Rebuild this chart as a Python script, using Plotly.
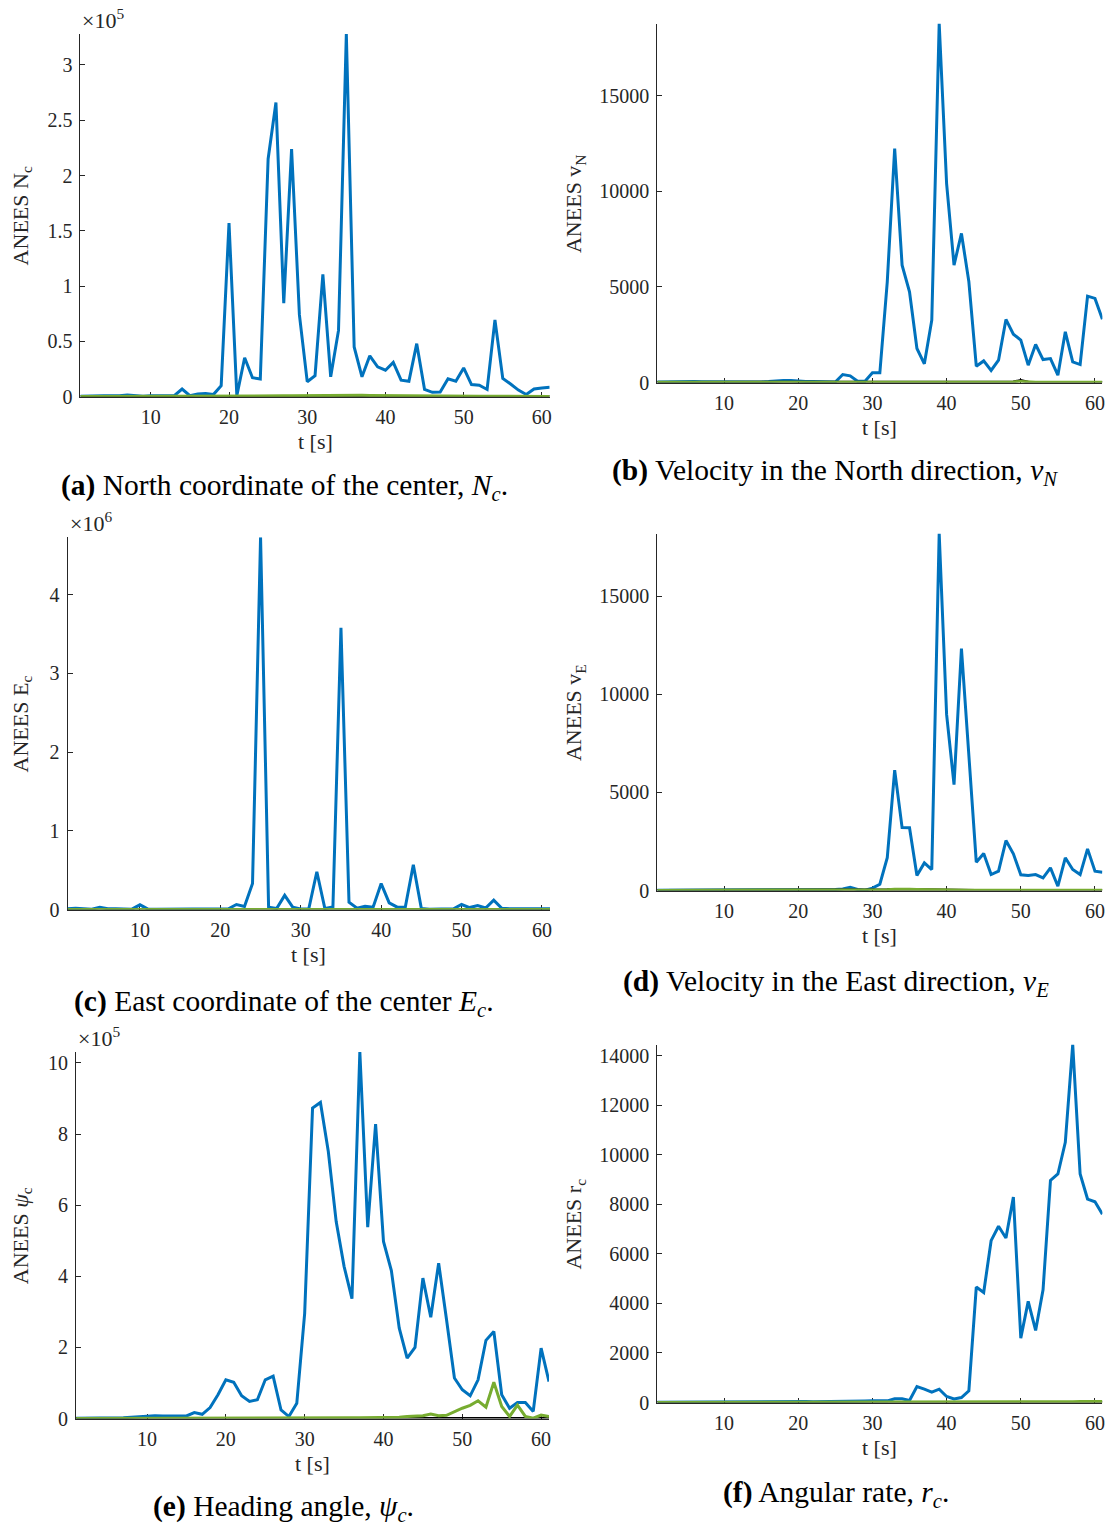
import plotly.graph_objects as go

# ---------------- data ----------------
t = list(range(1, 62))

# (a) ANEES N_c  (x 1e5)
a_blue = [0.005, 0.008, 0.01, 0.01, 0.01, 0.008, 0.015, 0.01, 0.005, 0.01, 0.012, 0.012, 0.01,
          0.07, 0.01, 0.025, 0.03, 0.02, 0.1, 1.57, 0.01, 0.353, 0.172, 0.16, 2.15, 2.66, 0.846,
          2.24, 0.74, 0.136, 0.19, 1.106, 0.18, 0.60, 3.28, 0.45, 0.18, 0.37, 0.27, 0.24, 0.31,
          0.15, 0.14, 0.48, 0.066, 0.04, 0.042, 0.163, 0.14, 0.26, 0.11, 0.105, 0.066, 0.695,
          0.166, 0.115, 0.06, 0.02, 0.07, 0.08, 0.085]
a_green = [0.002, 0.002, 0.002, 0.002, 0.002, 0.002, 0.003, 0.002, 0.002, 0.002, 0.002, 0.002, 0.002,
           0.003, 0.002, 0.002, 0.003, 0.003, 0.003, 0.004, 0.004, 0.005, 0.005, 0.006, 0.007, 0.008,
           0.008, 0.009, 0.01, 0.011, 0.012, 0.013, 0.014, 0.015, 0.015, 0.014, 0.013, 0.012, 0.011,
           0.01, 0.009, 0.008, 0.008, 0.007, 0.006, 0.005, 0.005, 0.005, 0.004, 0.004, 0.004, 0.004,
           0.004, 0.004, 0.004, 0.003, 0.003, 0.003, 0.003, 0.003, 0.003]
a_black = [0.001, 0.001, 0.001, 0.001, 0.001, 0.001, 0.001, 0.001, 0.001, 0.001,
           0.001, 0.001, 0.001, 0.001, 0.001, 0.001, 0.001, 0.001, 0.001, 0.001, 0.001, 0.001,
           0.001, 0.001, 0.001, 0.001, 0.001, 0.001, 0.001, 0.001, 0.001, 0.001, 0.001, 0.001,
           0.001, 0.001, 0.001, 0.001, 0.001, 0.001, 0.001, 0.001, 0.001, 0.001, 0.001, 0.001,
           0.001, 0.001, 0.001, 0.001, 0.001, 0.001, 0.001, 0.001, 0.001, 0.001, 0.001, 0.001,
           0.001, 0.001, 0.001]

# (b) ANEES v_N
b_blue = [30, 40, 50, 55, 50, 50, 45, 40, 35, 35, 40, 40, 40, 35, 30, 50, 80, 110, 100, 70, 60, 55,
          50, 45, 30, 420, 350, 70, 70, 505, 505, 5270, 12240, 6140, 4740, 1780, 977, 3260, 18780,
          10410, 6140, 7800, 5270, 855, 1130, 630, 1170, 3300, 2530, 2215, 907, 1990, 1200, 1255,
          384, 2650, 1080, 940, 4520, 4400, 3310]
b_green = [8, 8, 9, 9, 10, 10, 10, 9, 9, 10, 10, 11, 11, 12, 12, 12, 13, 13, 13, 12, 12, 12, 12, 13,
           13, 14, 14, 15, 15, 16, 17, 18, 20, 20, 19, 18, 18, 17, 17, 16, 16, 15, 15, 16, 16, 17,
           18, 20, 30, 60, 30, 20, 18, 17, 16, 16, 15, 15, 15, 15, 15]
b_black = [2, 2, 2, 2, 2, 2, 2, 2, 2, 2, 2, 2, 2, 2, 2, 2, 2, 2, 2, 2, 2, 2, 2, 2, 2, 2, 2, 2, 2, 2,
           2, 2, 3, 3, 3, 3, 3, 3, 3, 3, 3, 3, 3, 3, 3, 3, 3, 5, 30, 110, 20, 3, 3, 3, 3, 3, 3, 3,
           3, 3, 3]

# (c) ANEES E_c  (x 1e6)
c_blue = [0.01, 0.015, 0.01, 0.005, 0.03, 0.01, 0.01, 0.005, 0.005, 0.06, 0.005, 0.004, 0.004,
          0.004, 0.004, 0.005, 0.005, 0.006, 0.008, 0.01, 0.01, 0.064, 0.04, 0.33, 4.73, 0.03,
          0.013, 0.18, 0.03, 0.008, 0.01, 0.48, 0.013, 0.034, 3.58, 0.093, 0.017, 0.042, 0.03,
          0.33, 0.085, 0.03, 0.03, 0.57, 0.013, 0.005, 0.005, 0.01, 0.01, 0.064, 0.025, 0.05,
          0.02, 0.12, 0.017, 0.01, 0.008, 0.005, 0.005, 0.01, 0.01]
c_green = [0.002, 0.002, 0.002, 0.002, 0.002, 0.002, 0.002, 0.002, 0.002, 0.002, 0.002, 0.002,
           0.002, 0.002, 0.002, 0.002, 0.002, 0.002, 0.002, 0.002, 0.002, 0.002, 0.002, 0.003,
           0.003, 0.003, 0.003, 0.003, 0.003, 0.003, 0.003, 0.003, 0.003, 0.003, 0.003, 0.003,
           0.003, 0.003, 0.003, 0.003, 0.003, 0.003, 0.003, 0.003, 0.003, 0.003, 0.002, 0.002,
           0.002, 0.002, 0.002, 0.002, 0.002, 0.002, 0.002, 0.002, 0.002, 0.002, 0.002, 0.002, 0.002]
c_black = [0.0005] * 61

# (d) ANEES v_E
d_blue = [10, 12, 12, 14, 14, 14, 15, 15, 15, 15, 18, 18, 20, 40, 45, 50, 20, 20, 40, 60, 45, 40,
          40, 45, 50, 85, 170, 50, 20, 120, 320, 1670, 6140, 3210, 3200, 765, 1410, 1070, 18200,
          8980, 5400, 12340, 6850, 1445, 1890, 815, 985, 2550, 1870, 800, 765, 815, 645, 1155, 220,
          1670, 1070, 815, 2125, 985, 935]
d_green = [6, 6, 6, 7, 7, 7, 7, 8, 8, 8, 8, 8, 9, 9, 9, 9, 10, 10, 10, 10, 10, 11, 11, 11, 12, 12,
           13, 14, 15, 18, 25, 40, 70, 80, 65, 55, 45, 35, 28, 22, 18, 15, 14, 13, 12, 12, 11, 11,
           11, 10, 10, 10, 10, 10, 10, 10, 10, 10, 10, 10, 10]
d_black = [2, 2, 2, 2, 2, 2, 2, 2, 2, 2, 2, 2, 2, 2, 2, 2, 2, 2, 2, 2, 2, 2, 2, 2, 2, 2, 2, 2, 3,
           5, 15, 35, 55, 60, 50, 40, 35, 25, 15, 8, 4, 3, 3, 3, 3, 3, 3, 3, 3, 3, 3, 3, 3, 3, 3, 3,
           3, 3, 3, 3, 3]

# (e) ANEES psi_c  (x 1e5)
e_blue = [0.005, 0.005, 0.005, 0.008, 0.01, 0.015, 0.02, 0.04, 0.05, 0.08, 0.08, 0.075, 0.07, 0.07,
          0.075, 0.17, 0.12, 0.31, 0.67, 1.09, 1.02, 0.64, 0.48, 0.53, 1.09, 1.19, 0.24, 0.056, 0.43,
          2.96, 8.73, 8.89, 7.51, 5.54, 4.28, 3.37, 10.31, 5.38, 8.28, 4.98, 4.16, 2.54, 1.70, 2.0,
          3.95, 2.85, 4.37, 2.78, 1.14, 0.81, 0.64, 1.09, 2.20, 2.45, 0.67, 0.29, 0.45, 0.45, 0.2,
          1.98, 1.04]
e_green = [0.002, 0.002, 0.002, 0.002, 0.002, 0.002, 0.003, 0.003, 0.003, 0.004, 0.004, 0.004,
           0.004, 0.005, 0.005, 0.005, 0.005, 0.006, 0.006, 0.006, 0.006, 0.007, 0.007, 0.007,
           0.008, 0.008, 0.008, 0.009, 0.01, 0.012, 0.014, 0.015, 0.015, 0.016, 0.018, 0.02, 0.025,
           0.025, 0.02, 0.02, 0.03, 0.04, 0.06, 0.08, 0.08, 0.13, 0.08, 0.09, 0.2, 0.29, 0.37, 0.5,
           0.32, 1.02, 0.34, 0.06, 0.38, 0.06, 0.01, 0.1, 0.06]
e_black = [0.001] * 61

# (f) ANEES r_c
f_blue = [10, 12, 15, 18, 20, 25, 35, 35, 30, 25, 20, 20, 25, 30, 35, 30, 30, 35, 40, 50, 45, 30,
          30, 35, 40, 45, 50, 55, 60, 67, 67, 67, 150, 150, 80, 646, 538, 417, 538, 242, 148, 200,
          470, 4660, 4440, 6530, 7110, 6640, 8290, 2600, 4080, 2910, 4550, 8960, 9220, 10500, 14440,
          9220, 8210, 8100, 7600]
f_green = [5, 5, 5, 6, 6, 6, 6, 7, 7, 7, 7, 8, 8, 8, 8, 9, 9, 9, 10, 10, 10, 10, 11, 11, 11, 12,
           12, 12, 13, 13, 14, 14, 15, 15, 15, 16, 16, 17, 17, 18, 18, 19, 19, 20, 20, 21, 22, 23,
           24, 25, 26, 27, 28, 30, 31, 33, 35, 37, 39, 41, 43]
f_black = [2] * 61

x_ticks = [10, 20, 30, 40, 50, 60]
a_yticks = [0, 0.5, 1, 1.5, 2, 2.5, 3]
a_ytext = ["0", "0.5", "1", "1.5", "2", "2.5", "3"]
b_yticks = [0, 5000, 10000, 15000]
c_yticks = [0, 1, 2, 3, 4]
d_yticks = [0, 5000, 10000, 15000]
e_yticks = [0, 2, 4, 6, 8, 10]
f_yticks = [0, 2000, 4000, 6000, 8000, 10000, 12000, 14000]

# ---------------- layout ----------------
W, H = 1111, 1528
KY = 1540.0 / 1528.0   # compensates the slight vertical squeeze of the captured page
KX = 1114.0 / 1111.0   # compensates the slight horizontal squeeze
BLUE = "#0072BD"
GREEN = "#77AC30"
BLACK = "#000000"
AX = "#262626"
FONT = "Liberation Serif"

panels = [
    dict(blue=a_blue, green=a_green, black=a_black, box=(80.4, 549.7, 34.0, 396.5),
         yt=a_yticks, ytt=a_ytext, ylab="ANEES N<sub>c</sub>", exp="×10<sup>5</sup>",
         cap="<b>(a)</b> North coordinate of the center, <i>N</i><sub><i>c</i></sub>.", capxy=(284.5, 487)),
    dict(blue=b_blue, green=b_green, black=b_black, box=(657.3, 1102.4, 23.5, 382.3),
         yt=b_yticks, ytt=[str(v) for v in b_yticks], ylab="ANEES v<sub>N</sub>", exp=None,
         cap="<b>(b)</b> Velocity in the North direction, <i>v</i><sub><i>N</i></sub>", capxy=(835, 472)),
    dict(blue=c_blue, green=c_green, black=c_black, box=(67.6, 550.0, 537.0, 909.0),
         yt=c_yticks, ytt=[str(v) for v in c_yticks], ylab="ANEES E<sub>c</sub>", exp="×10<sup>6</sup>",
         cap="<b>(c)</b> East coordinate of the center <i>E</i><sub><i>c</i></sub>.", capxy=(284, 1002)),
    dict(blue=d_blue, green=d_green, black=d_black, box=(657.3, 1102.4, 533.3, 890.0),
         yt=d_yticks, ytt=[str(v) for v in d_yticks], ylab="ANEES v<sub>E</sub>", exp=None,
         cap="<b>(d)</b> Velocity in the East direction, <i>v</i><sub><i>E</i></sub>", capxy=(836, 982)),
    dict(blue=e_blue, green=e_green, black=e_black, box=(76.1, 549.0, 1051.3, 1417.7),
         yt=e_yticks, ytt=[str(v) for v in e_yticks], ylab="ANEES <i>ψ</i><sub>c</sub>", exp="×10<sup>5</sup>",
         cap="<b>(e)</b> Heading angle, <i>ψ</i><sub><i>c</i></sub>.", capxy=(283.5, 1507)),
    dict(blue=f_blue, green=f_green, black=f_black, box=(657.3, 1102.4, 1044.0, 1401.7),
         yt=f_yticks, ytt=[str(v) for v in f_yticks], ylab="ANEES r<sub>c</sub>", exp=None,
         cap="<b>(f)</b> Angular rate, <i>r</i><sub><i>c</i></sub>.", capxy=(836, 1493)),
]


def px(x):
    return min(1.0, (x * KX) / W)


def py(y):
    return 1 - (y * KY) / H


fig = go.Figure()
layout = dict(width=W, height=H, margin=dict(l=0, r=0, t=0, b=0),
              paper_bgcolor="white", plot_bgcolor="white", showlegend=False,
              font=dict(family=FONT, color=AX))
annotations = []

for i, p in enumerate(panels):
    n = "" if i == 0 else str(i + 1)
    xa, ya = "x" + n, "y" + n
    x0, x1, y0, y1 = p["box"]
    for series, col in ((p["blue"], BLUE), (p["black"], BLACK), (p["green"], GREEN)):
        fig.add_trace(go.Scatter(x=t, y=series, xaxis=xa, yaxis=ya, mode="lines",
                                 line=dict(color=col, width=3), hoverinfo="skip"))
    ymax = max(p["blue"])
    layout["xaxis" + n] = dict(domain=[px(x0), px(x1)], anchor=ya, range=[1, 61],
                               tickvals=x_ticks, ticktext=[str(v) for v in x_ticks],
                               ticks="inside", ticklen=5, tickwidth=1, tickcolor=AX,
                               showline=True, linecolor=AX, linewidth=1, showgrid=False,
                               zeroline=False, layer="below traces", ticklabelstandoff=2,
                               tickfont=dict(family=FONT, size=20, color=AX))
    layout["yaxis" + n] = dict(domain=[py(y1), py(y0)], anchor=xa, range=[0, ymax],
                               tickvals=p["yt"], ticktext=p["ytt"],
                               ticks="inside", ticklen=5, tickwidth=1, tickcolor=AX,
                               showline=True, linecolor=AX, linewidth=1, showgrid=False,
                               zeroline=False, layer="below traces", ticklabelstandoff=3,
                               tickfont=dict(family=FONT, size=20, color=AX))
    # x title
    annotations.append(dict(text="t [s]", xref="paper", yref="paper",
                            x=px((x0 + x1) / 2), y=py(y1 + 45), xanchor="center", yanchor="middle",
                            showarrow=False, font=dict(family=FONT, size=22, color=AX)))
    # y title
    ytx = 22 if x0 < 300 else 575
    annotations.append(dict(text=p["ylab"], xref="paper", yref="paper", textangle=-90,
                            x=px(ytx), y=py((y0 + y1) / 2), xanchor="center", yanchor="middle",
                            showarrow=False, font=dict(family=FONT, size=22, color=AX)))
    # exponent label
    if p["exp"]:
        annotations.append(dict(text=p["exp"], xref="paper", yref="paper",
                                x=px(x0), y=py(y0 + 1), xanchor="left", yanchor="bottom",
                                showarrow=False, font=dict(family=FONT, size=22, color=AX)))
    # caption
    cx, cy = p["capxy"]
    annotations.append(dict(text=p["cap"], xref="paper", yref="paper",
                            x=px(cx), y=py(cy), xanchor="center", yanchor="middle",
                            showarrow=False, font=dict(family=FONT, size=29.5, color="#000000")))

layout["annotations"] = annotations
fig.update_layout(**layout)
fig.write_html("out.html")
